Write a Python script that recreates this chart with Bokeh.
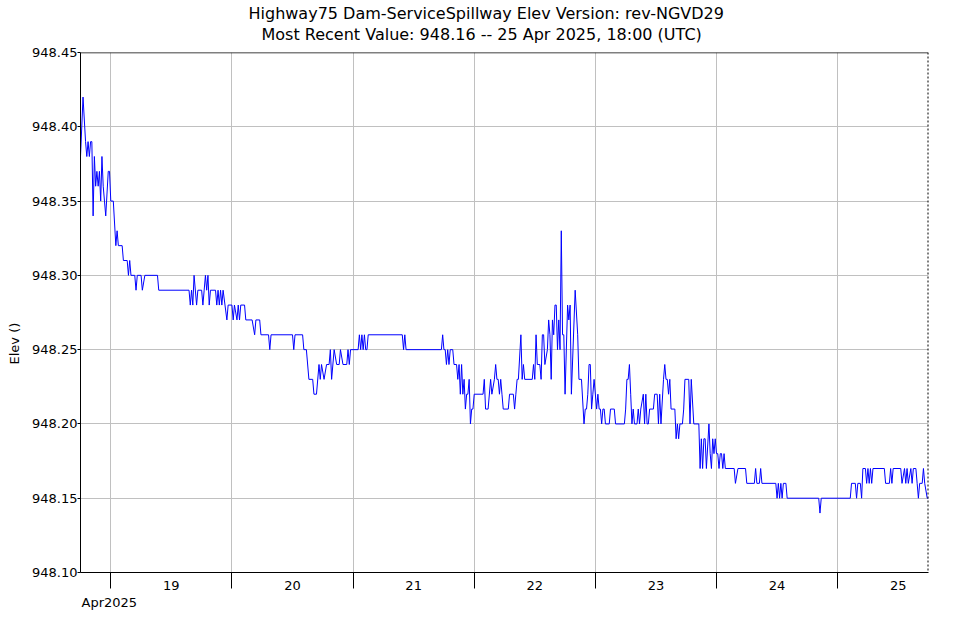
from datetime import datetime, timedelta
from bokeh.plotting import figure
from bokeh.models import (Range1d, FixedTicker, CustomJSTickFormatter, PrintfTickFormatter,
                          Span, Title)
from bokeh.embed import file_html
from bokeh.resources import INLINE

# ---- data ----
title_line1 = "Highway75  Dam-ServiceSpillway  Elev  Version: rev-NGVD29"
title_line2 = "Most Recent Value: 948.16  --  25 Apr 2025, 18:00 (UTC)"
y_label = "Elev ()"
month_label = "Apr2025"

series_start = datetime(2025, 4, 18, 18, 0)
series_end = datetime(2025, 4, 25, 18, 0)

# hours after series_start at which the reading changes
hours = [
    0, 0.5, 1.0, 1.25, 1.5, 1.75, 2.0, 2.25, 2.5, 2.75, 3.0, 3.25, 3.5, 3.75, 4.0, 4.25,
    4.5, 4.75, 5.0, 5.5, 5.75, 6.0, 6.5, 7.0, 7.25, 7.5, 8.25, 8.5, 9.25, 9.5, 9.75, 10.0,
    10.75, 11.0, 11.25, 12.0, 12.25, 12.75, 15.25, 15.5, 21.5, 21.75, 22.0, 22.25, 22.5,
    23.0, 23.25, 24.0, 24.25, 24.5, 24.75, 25.0, 25.25, 25.5, 25.75, 26.75, 27.0, 27.25,
    27.5, 27.75, 28.0, 28.25, 29.0, 29.25, 30.0, 30.25, 30.5, 31.0, 31.25, 31.5, 31.75,
    32.5, 32.75, 34.0, 34.5, 34.75, 35.5, 35.75, 37.25, 37.5, 37.75, 42.0, 42.25, 42.5,
    44.0, 44.25, 44.75, 45.25, 46.0, 46.25, 46.75, 47.25, 47.5, 47.75, 48.25, 48.75,
    49.25, 49.5, 49.75, 50.25, 50.75, 51.25, 51.5, 52.0, 52.75, 53.0, 53.25, 53.5, 55.0,
    55.25, 55.5, 55.75, 56.0, 56.25, 56.5, 56.75, 57.0, 63.75, 64.0, 64.25, 64.5, 71.5,
    71.75, 72.0, 72.25, 72.5, 72.75, 73.0, 73.25, 73.75, 74.0, 74.5, 74.75, 75.0, 75.25,
    75.5, 75.75, 76.0, 76.25, 76.5, 76.75, 77.0, 77.25, 77.5, 77.75, 78.0, 79.75, 80.0,
    80.25, 80.75, 81.25, 81.5, 82.0, 82.25, 82.5, 82.75, 83.0, 83.25, 83.5, 83.75, 84.75,
    85.0, 85.75, 86.0, 86.25, 86.5, 86.75, 87.25, 87.5, 87.75, 88.0, 89.5, 89.75, 90.0,
    90.25, 90.5, 91.0, 91.25, 91.5, 91.75, 92.0, 92.5, 92.75, 93.0, 93.25, 93.5, 93.75,
    94.0, 94.25, 94.5, 94.75, 95.0, 95.25, 95.5, 95.75, 96.0, 96.5, 96.75, 97.0, 97.25,
    98.0, 98.5, 98.75, 99.25, 99.75, 100.0, 100.25, 100.5, 100.75, 101.0, 101.25, 101.5,
    101.75, 102.25, 102.5, 102.75, 103.0, 103.25, 103.5, 103.75, 104.0, 104.75, 105.0,
    105.75, 106.0, 107.75, 108.0, 108.25, 108.5, 108.75, 109.0, 109.25, 109.5, 109.75,
    110.25, 110.5, 110.75, 111.0, 111.5, 111.75, 112.0, 112.25, 112.5, 112.75, 113.5,
    113.75, 114.25, 114.5, 114.75, 115.0, 115.5, 115.75, 116.0, 116.25, 116.5, 116.75,
    117.0, 117.75, 118.0, 118.25, 118.5, 118.75, 119.25, 119.5, 119.75, 120.5, 120.75,
    121.0, 121.5, 121.75, 122.5, 122.75, 123.0, 123.25, 123.5, 123.75, 124.0, 124.5,
    124.75, 125.0, 125.25, 125.5, 125.75, 126.0, 126.25, 126.5, 126.75, 127.0, 127.25,
    127.5, 127.75, 129.5, 129.75, 130.25, 131.75, 132.0, 133.5, 133.75, 134.0, 134.5,
    134.75, 135.0, 137.75, 138.0, 138.25, 138.5, 138.75, 139.0, 139.25, 139.75, 140.0,
    146.25, 146.5, 146.75, 152.5, 152.75, 153.5, 153.75, 154.0, 154.5, 154.75, 155.0,
    155.5, 155.75, 156.0, 156.25, 156.5, 156.75, 157.0, 159.25, 159.5, 160.25, 160.5,
    160.75, 161.0, 162.5, 162.75, 163.25, 163.5, 163.75, 164.0, 164.5, 164.75, 165.0,
    165.5, 165.75, 166.0, 166.25, 166.75, 167.0, 167.25, 167.75, 168.0,
]

elev = [
    948.38, 948.42, 948.39, 948.38, 948.39, 948.38, 948.39, 948.39, 948.34, 948.38, 948.36,
    948.37, 948.36, 948.37, 948.35, 948.38, 948.36, 948.35, 948.34, 948.37, 948.37, 948.35,
    948.35, 948.32, 948.33, 948.32, 948.32, 948.31, 948.31, 948.30, 948.31, 948.30, 948.30,
    948.29, 948.30, 948.30, 948.29, 948.30, 948.30, 948.29, 948.29, 948.28, 948.29, 948.28,
    948.30, 948.28, 948.29, 948.29, 948.28, 948.29, 948.30, 948.29, 948.30, 948.28, 948.29,
    948.29, 948.28, 948.29, 948.28, 948.29, 948.28, 948.29, 948.27, 948.28, 948.28, 948.27,
    948.28, 948.27, 948.28, 948.27, 948.28, 948.28, 948.27, 948.27, 948.26, 948.27, 948.27,
    948.26, 948.26, 948.25, 948.26, 948.26, 948.25, 948.26, 948.26, 948.25, 948.25, 948.23,
    948.23, 948.22, 948.22, 948.24, 948.23, 948.24, 948.23, 948.24, 948.24, 948.25, 948.23,
    948.25, 948.24, 948.24, 948.25, 948.24, 948.24, 948.25, 948.24, 948.25, 948.25, 948.26,
    948.25, 948.26, 948.25, 948.26, 948.25, 948.25, 948.26, 948.26, 948.25, 948.26, 948.25,
    948.25, 948.26, 948.25, 948.25, 948.24, 948.25, 948.24, 948.25, 948.25, 948.24, 948.24,
    948.23, 948.24, 948.22, 948.24, 948.22, 948.23, 948.21, 948.22, 948.22, 948.23, 948.20,
    948.21, 948.21, 948.22, 948.22, 948.23, 948.21, 948.21, 948.23, 948.22, 948.23, 948.24,
    948.23, 948.23, 948.22, 948.23, 948.22, 948.21, 948.21, 948.22, 948.22, 948.21, 948.22,
    948.23, 948.23, 948.26, 948.23, 948.24, 948.23, 948.23, 948.24, 948.23, 948.26, 948.24,
    948.24, 948.23, 948.26, 948.26, 948.24, 948.25, 948.27, 948.26, 948.23, 948.27, 948.26,
    948.28, 948.28, 948.25, 948.27, 948.25, 948.33, 948.26, 948.26, 948.22, 948.28, 948.27,
    948.28, 948.22, 948.29, 948.26, 948.23, 948.23, 948.20, 948.21, 948.21, 948.22, 948.24,
    948.24, 948.21, 948.22, 948.23, 948.21, 948.22, 948.21, 948.21, 948.20, 948.21, 948.21,
    948.20, 948.20, 948.21, 948.21, 948.20, 948.20, 948.21, 948.23, 948.23, 948.24, 948.22,
    948.20, 948.21, 948.20, 948.20, 948.21, 948.20, 948.21, 948.22, 948.20, 948.22, 948.20,
    948.20, 948.21, 948.21, 948.22, 948.22, 948.20, 948.22, 948.20, 948.23, 948.24, 948.23,
    948.23, 948.22, 948.23, 948.21, 948.21, 948.19, 948.20, 948.19, 948.20, 948.20, 948.21,
    948.23, 948.23, 948.20, 948.23, 948.20, 948.20, 948.20, 948.17, 948.19, 948.17, 948.19,
    948.19, 948.17, 948.20, 948.18, 948.17, 948.19, 948.18, 948.19, 948.18, 948.18, 948.17,
    948.18, 948.18, 948.17, 948.18, 948.17, 948.17, 948.16, 948.17, 948.17, 948.16, 948.16,
    948.17, 948.16, 948.16, 948.17, 948.16, 948.16, 948.15, 948.16, 948.15, 948.16, 948.15,
    948.16, 948.16, 948.15, 948.15, 948.14, 948.15, 948.15, 948.16, 948.16, 948.15, 948.16,
    948.16, 948.15, 948.17, 948.17, 948.16, 948.17, 948.16, 948.17, 948.16, 948.17, 948.17,
    948.16, 948.16, 948.17, 948.16, 948.17, 948.17, 948.16, 948.17, 948.16, 948.17, 948.16,
    948.17, 948.16, 948.17, 948.17, 948.16, 948.15, 948.16, 948.16, 948.17, 948.16, 948.15,
    948.15,
]

y_min, y_max = 948.10, 948.45
y_ticks = [948.10, 948.15, 948.20, 948.25, 948.30, 948.35, 948.40, 948.45]
day_labels = ["19", "20", "21", "22", "23", "24", "25"]
day_starts = [datetime(2025, 4, d) for d in range(19, 26)]
day_noons = [datetime(2025, 4, d, 12) for d in range(19, 26)]

# ---- figure ----
times = [series_start + timedelta(hours=h) for h in hours]
EPOCH = datetime(1970, 1, 1)
def ms(d):
    return (d - EPOCH).total_seconds() * 1000.0

FONT = "DejaVu Sans"
W, H = 960, 618
FL, FR, FT, FB = 78, 928, 52, 572          # frame edges in page pixels

p = figure(width=W, height=H, x_axis_type="datetime",
           x_range=Range1d(ms(series_start), ms(series_end)),
           y_range=Range1d(y_min, y_max),
           output_backend="svg", toolbar_location=None,
           min_border_left=FL, min_border_right=W - FR,
           min_border_top=FT, min_border_bottom=H - FB)

p.background_fill_color = "white"
p.border_fill_color = "white"
p.outline_line_color = None

p.line(times, elev, line_color="#0000ff", line_width=1)

def title(text, size, **kw):
    return Title(text=text, text_font=FONT, text_font_size=size, text_font_style="normal",
                 text_color="black", **kw)

# headline: spacer nearest the frame, then line 2, then line 1
p.add_layout(title(" ", "1px", standoff=6), "above")
p.add_layout(title(title_line2, "16px", align="left", offset=181, standoff=0,
                   text_line_height=1.0), "above")
p.add_layout(title(title_line1, "16px", align="left", offset=168, standoff=0,
                   text_line_height=1.0), "above")

# month under the day labels, y-axis name on the left side
p.add_layout(title(month_label, "13px", align="left", offset=1, standoff=1), "below")
p.add_layout(title(y_label, "13px", align="left", offset=208, vertical_align="top",
                   standoff=12), "left")

# x axis: labels at noon, tick marks at midnight
xa = p.xaxis[0]
xa.ticker = FixedTicker(ticks=[ms(d) for d in day_noons], minor_ticks=[ms(d) for d in day_starts])
xa.formatter = CustomJSTickFormatter(
    args=dict(day_names=day_labels, noon_ms=[ms(d) for d in day_noons]),
    code="""
    for (let i = 0; i < noon_ms.length; i++) {
        if (Math.abs(noon_ms[i] - tick) < 1000) return day_names[i];
    }
    return "";
    """)
xa.major_tick_out = 0
xa.major_tick_in = 0
xa.minor_tick_out = 16
xa.minor_tick_in = 0
xa.minor_tick_line_color = "black"
xa.axis_line_color = "black"
xa.major_label_standoff = -8
xa.major_label_text_font = FONT
xa.major_label_text_font_size = "13px"
xa.major_label_text_color = "black"

# y axis
ya = p.yaxis[0]
ya.ticker = FixedTicker(ticks=y_ticks)
ya.formatter = PrintfTickFormatter(format="%.2f")
ya.major_tick_out = 3
ya.major_tick_in = 0
ya.minor_tick_out = 0
ya.minor_tick_in = 0
ya.major_label_standoff = 0
ya.major_label_text_font = FONT
ya.major_label_text_font_size = "13px"
ya.major_label_text_color = "black"
ya.axis_line_color = "black"

# grids
p.xgrid.ticker = FixedTicker(ticks=[ms(d) for d in day_starts])
p.xgrid.grid_line_color = "#c0c0c0"
p.ygrid.grid_line_color = "#c0c0c0"

# frame top (solid) and right (dashed)
p.add_layout(Span(location=y_max, dimension="width", line_color="black", line_width=1.5))
p.add_layout(Span(location=ms(series_end), dimension="height", line_color="black",
                  line_width=2, line_dash="2 2"))

open("out.html", "w").write(file_html(p, INLINE))
